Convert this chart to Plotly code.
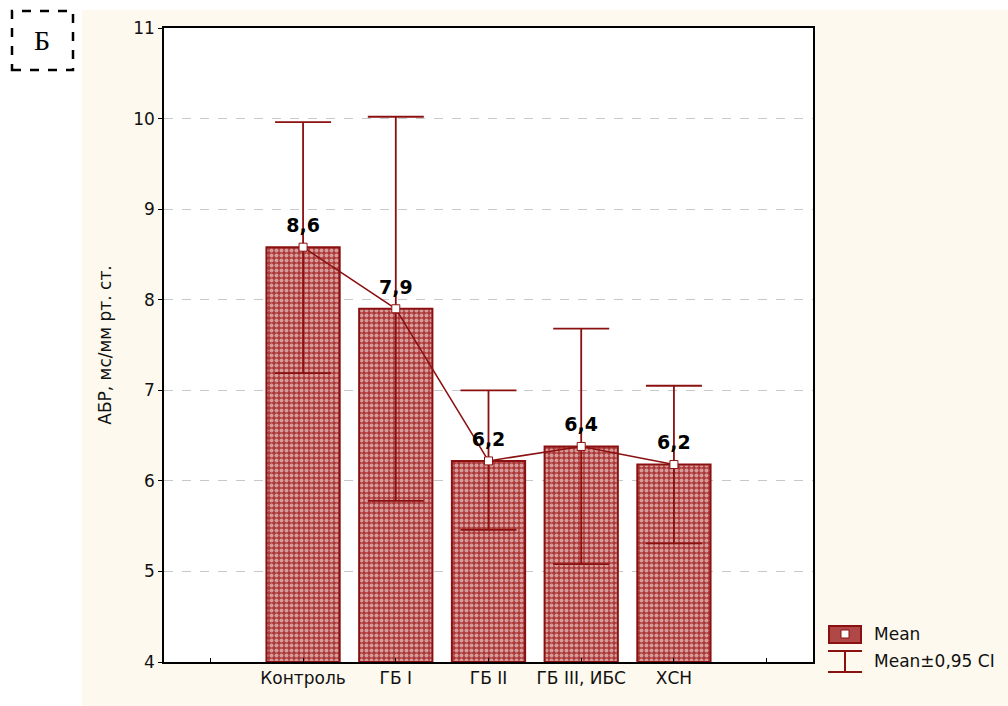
import plotly.graph_objects as go

categories = ["Контроль", "ГБ I", "ГБ II", "ГБ III, ИБС", "ХСН"]
means = [8.58, 7.90, 6.22, 6.38, 6.18]
ci_upper = [9.96, 10.02, 7.00, 7.68, 7.05]
ci_lower = [7.19, 5.78, 5.46, 5.08, 5.31]
labels = ["8,6", "7,9", "6,2", "6,4", "6,2"]
y_ticks = [4, 5, 6, 7, 8, 9, 10, 11]

DR = "#8B1010"
CREAM = "#FDF9EE"
FONT = "DejaVu Sans, Liberation Sans, Arial, sans-serif"

xpos = list(range(len(categories)))
err_plus = [u - m for u, m in zip(ci_upper, means)]
err_minus = [m - l for m, l in zip(means, ci_lower)]

fig = go.Figure()
fig.add_trace(go.Bar(
    x=xpos, y=[m - 4 for m in means], base=4, width=0.79,
    marker=dict(color="white", line=dict(color=DR, width=2),
                pattern=dict(shape=".", fgcolor="white", bgcolor="#AC3838", size=5, solidity=0.5)),
    showlegend=False, hoverinfo="skip",
))
fig.add_trace(go.Scatter(
    x=xpos, y=means, mode="lines+markers",
    line=dict(color=DR, width=1.5),
    marker=dict(symbol="square", size=8, color="white", line=dict(color=DR, width=1)),
    error_y=dict(type="data", symmetric=False, array=err_plus, arrayminus=err_minus,
                 color=DR, thickness=1.8, width=28),
    showlegend=False,
))
fig.add_trace(go.Scatter(
    x=xpos, y=[m + 0.22 for m in means], mode="text", text=labels,
    textfont=dict(family=FONT, size=19, color="black", weight="bold"),
    showlegend=False,
))

shapes = [
    dict(type="rect", xref="paper", yref="paper", x0=-0.3, x1=-0.1263, y0=-0.1, y1=1.1,
         fillcolor="white", line=dict(width=0), layer="below"),
    dict(type="rect", xref="paper", yref="paper", x0=-0.3, x1=1.35, y0=1.0284, y1=1.1,
         fillcolor="white", line=dict(width=0), layer="below"),
    dict(type="rect", xref="paper", yref="paper",
         x0=(12 - 164) / 649, x1=(73 - 164) / 649, y0=(662 - 70) / 634, y1=(662 - 11) / 634,
         line=dict(color="black", width=2.5, dash="dash"), fillcolor="rgba(0,0,0,0)"),
    dict(type="rect", xref="paper", yref="paper",
         x0=(829 - 164) / 649, x1=(861 - 164) / 649, y0=(662 - 643) / 634, y1=(662 - 626) / 634,
         fillcolor="#B04848", line=dict(color=DR, width=2)),
    dict(type="rect", xref="paper", yref="paper",
         x0=(841 - 164) / 649, x1=(849 - 164) / 649, y0=(662 - 638) / 634, y1=(662 - 630) / 634,
         fillcolor="white", line=dict(color=DR, width=1)),
    dict(type="line", xref="paper", yref="paper",
         x0=(828 - 164) / 649, x1=(862 - 164) / 649, y0=(662 - 651) / 634, y1=(662 - 651) / 634,
         line=dict(color=DR, width=2)),
    dict(type="line", xref="paper", yref="paper",
         x0=(828 - 164) / 649, x1=(862 - 164) / 649, y0=(662 - 672) / 634, y1=(662 - 672) / 634,
         line=dict(color=DR, width=2)),
    dict(type="line", xref="paper", yref="paper",
         x0=(845 - 164) / 649, x1=(845 - 164) / 649, y0=(662 - 651) / 634, y1=(662 - 672) / 634,
         line=dict(color=DR, width=2)),
]

annotations = [
    dict(text="Б", xref="paper", yref="paper", x=(42 - 164) / 649, y=(662 - 40) / 634,
         xanchor="center", yanchor="middle", showarrow=False,
         font=dict(family="Liberation Serif, Times New Roman, serif", size=28, color="black")),
    dict(text="Mean", xref="paper", yref="paper", x=(872 - 164) / 649, y=(662 - 634) / 634,
         xanchor="left", yanchor="middle", showarrow=False, font=dict(family=FONT, size=17, color="#111")),
    dict(text="Mean±0,95 CI", xref="paper", yref="paper", x=(872 - 164) / 649, y=(662 - 661) / 634,
         xanchor="left", yanchor="middle", showarrow=False, font=dict(family=FONT, size=17, color="#111")),
]

fig.update_layout(
    width=1008, height=706,
    margin=dict(l=164, r=195, t=28, b=44),
    paper_bgcolor=CREAM, plot_bgcolor="white",
    font=dict(family=FONT, size=16, color="#111"),
    bargap=0.2, showlegend=False,
    shapes=shapes, annotations=annotations,
)
fig.update_xaxes(
    range=[-1.5, 5.5], tickmode="array", tickvals=[-1] + xpos + [5],
    ticktext=[""] + categories + [""],
    ticks="inside", ticklen=4, tickcolor="black",
    showline=True, linecolor="black", linewidth=1.5, mirror=True,
    showgrid=False, zeroline=False, tickfont=dict(family=FONT, size=17, color="#111"),
)
fig.update_yaxes(
    range=[4, 11], tickvals=y_ticks, ticks="outside", ticklen=4, tickcolor="black",
    showline=True, linecolor="black", linewidth=1.5, mirror=True,
    showgrid=True, gridcolor="#C8C8C8", griddash="dash", gridwidth=1, zeroline=False,
    title=dict(text="АБР, мс/мм рт. ст.", font=dict(family=FONT, size=17, color="#111"), standoff=17),
    tickfont=dict(family=FONT, size=17, color="#111"),
)

fig.write_html("out.html")
